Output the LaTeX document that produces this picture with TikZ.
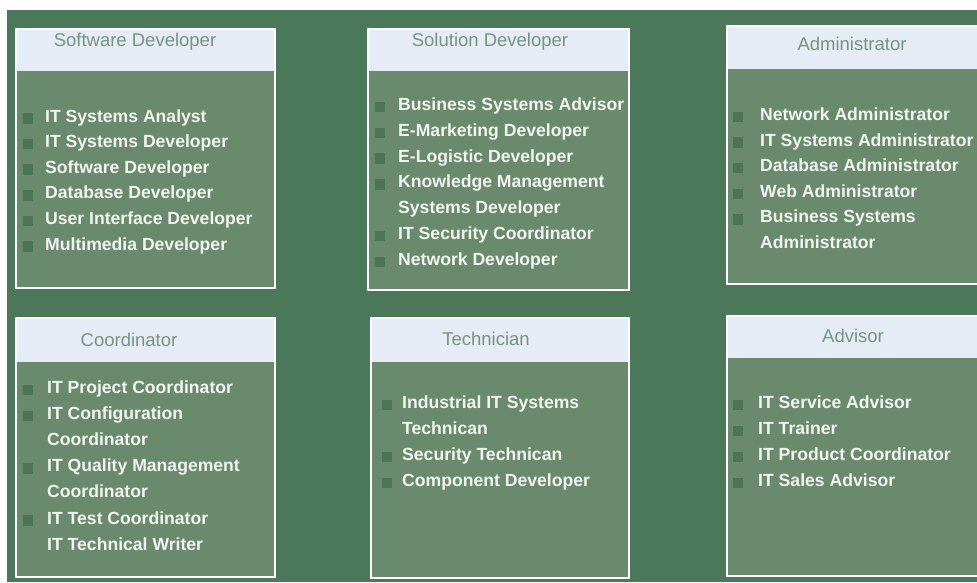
\documentclass[tikz,border=0pt]{standalone}
\usepackage{fontspec}
\setmainfont{Liberation Sans}
\usepackage{xcolor}
\usetikzlibrary{positioning}

\definecolor{pagegreen}{RGB}{74,120,88}
\definecolor{cardgreen}{RGB}{106,138,110}
\definecolor{headfill}{RGB}{230,236,246}
\definecolor{headink}{RGB}{118,148,128}
\definecolor{itemink}{RGB}{242,244,240}
\definecolor{dotgreen}{RGB}{74,118,86}

\begin{document}
\begin{tikzpicture}[
    x=1pt, y=-1pt,
    % Card styles - white frame, green body, pale header band
    card/.style={draw=white, line width=1.6pt, fill=cardgreen, anchor=north west, inner sep=0pt,
        path picture={\fill[headfill] (path picture bounding box.north west) rectangle ([yshift=-#1]path picture bounding box.north east);}},
    cardtitle/.style={font=\fontsize{18.5}{20}\selectfont, text=headink, inner sep=0pt, text height=0.716em, text depth=0pt},
    itemtext/.style={font=\fontsize{17.6}{20}\selectfont\bfseries, text=itemink, anchor=west, inner sep=0pt, text height=0.716em, text depth=0pt},
    itemdot/.style={fill=dotgreen, minimum size=10.5pt, inner sep=0pt}
]

\useasboundingbox (0,0) rectangle (977,582);
\clip (0,0) rectangle (977,582);
\fill[white] (0,0) rectangle (977,582);
\fill[pagegreen] (7,10) rectangle (977,582);

% ========== TOP ROW ==========
\node[card=42pt, minimum width=259, minimum height=259] (swbox) at (15,28) {};
\node[cardtitle] (swtitle) at (135,43) {Software Developer};
\foreach \txt/\mk [count=\i from 0] in {IT Systems Analyst/1, IT Systems Developer/1, Software Developer/1,
    Database Developer/1, User Interface Developer/1, Multimedia Developer/1}{
  \node[itemtext] (sw\i) at (45,118.5+25.6*\i) {\txt};
  \ifnum\mk=1 \node[itemdot] (swdot\i) at (28,118.5+25.6*\i) {};\fi
}

\node[card=42pt, minimum width=261, minimum height=261] (sdbox) at (367,28) {};
\node[cardtitle] (sdtitle) at (490,43) {Solution Developer};
\foreach \txt/\mk [count=\i from 0] in {Business Systems Advisor/1, E-Marketing Developer/1, E-Logistic Developer/1,
    Knowledge Management/1, Systems Developer/0, IT Security Coordinator/1, Network Developer/1}{
  \node[itemtext] (sd\i) at (398,107+25.8*\i) {\txt};
  \ifnum\mk=1 \node[itemdot] (sddot\i) at (380,107+25.8*\i) {};\fi
}

\node[card=43pt, minimum width=270, minimum height=258] (adbox) at (726,25) {};
\node[cardtitle] (adtitle) at (852,46.5) {Administrator};
\foreach \txt/\mk [count=\i from 0] in {Network Administrator/1, IT Systems Administrator/1, Database Administrator/1,
    Web Administrator/1, Business Systems/1, Administrator/0}{
  \node[itemtext] (ad\i) at (760,117+25.6*\i) {\txt};
  \ifnum\mk=1 \node[itemdot] (addot\i) at (738,117+25.6*\i) {};\fi
}

% ========== BOTTOM ROW ==========
\node[card=44pt, minimum width=259, minimum height=259] (cobox) at (15,317) {};
\node[cardtitle] (cotitle) at (129,343) {Coordinator};
\foreach \txt/\mk [count=\i from 0] in {IT Project Coordinator/1, IT Configuration/1, Coordinator/0,
    IT Quality Management/1, Coordinator/0, IT Test Coordinator/1, IT Technical Writer/0}{
  \node[itemtext] (co\i) at (47,390+26.1*\i) {\txt};
  \ifnum\mk=1 \node[itemdot] (codot\i) at (28,390+26.1*\i) {};\fi
}

\node[card=44pt, minimum width=258, minimum height=260] (tebox) at (370,317) {};
\node[cardtitle] (tetitle) at (486,342) {Technician};
\foreach \txt/\mk [count=\i from 0] in {Industrial IT Systems/1, Technican/0, Security Technican/1,
    Component Developer/1}{
  \node[itemtext] (te\i) at (402,405+26*\i) {\txt};
  \ifnum\mk=1 \node[itemdot] (tedot\i) at (387,405+26*\i) {};\fi
}

\node[card=42pt, minimum width=270, minimum height=260] (avbox) at (726,315) {};
\node[cardtitle] (avtitle) at (853,339) {Advisor};
\foreach \txt/\mk [count=\i from 0] in {IT Service Advisor/1, IT Trainer/1, IT Product Coordinator/1,
    IT Sales Advisor/1}{
  \node[itemtext] (av\i) at (758,405+26*\i) {\txt};
  \ifnum\mk=1 \node[itemdot] (avdot\i) at (738,405+26*\i) {};\fi
}

\end{tikzpicture}
\end{document}
